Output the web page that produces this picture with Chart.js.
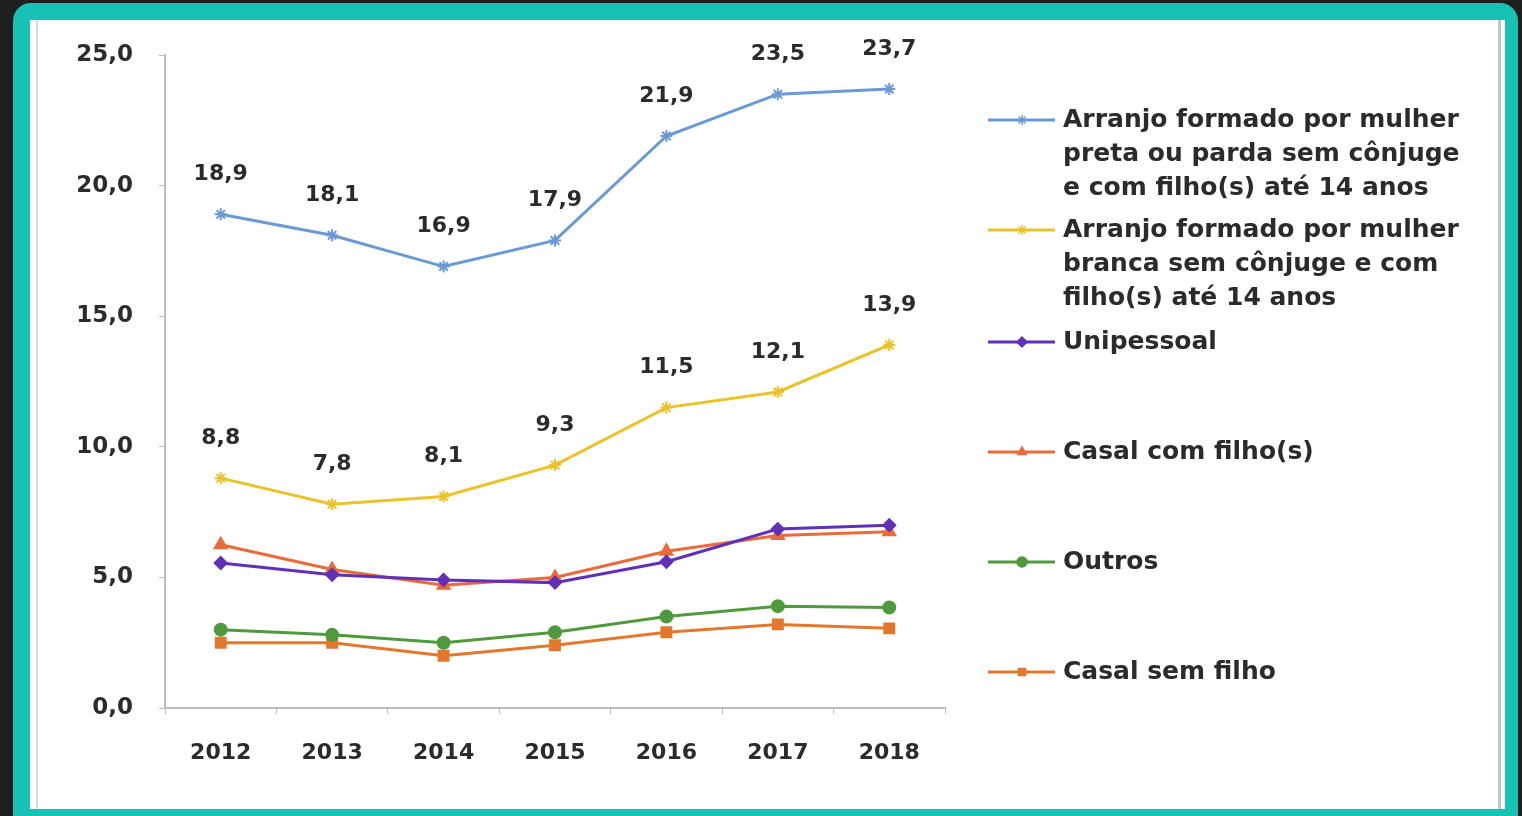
<!DOCTYPE html>
<html>
<head>
<meta charset="utf-8">
<script src="https://cdn.jsdelivr.net/npm/chart.js@4"></script>
<style>
  html, body { margin: 0; padding: 0; background: #1f1f1f; overflow: hidden; }
  #frame { position: absolute; left: 13px; top: 3px; width: 1505px; height: 840px; background: #17c1b4; border-radius: 18px; }
  #panel { position: absolute; left: 30px; top: 20px; width: 1475px; height: 789px; background: #fff; }
  #panel:before { content: ''; position: absolute; left: 6px; top: 0; bottom: 0; border-left: 2px solid #d8d8d8; }
  #panel:after { content: ''; position: absolute; right: 4px; top: 0; bottom: 0; border-left: 3px solid #c4c4c8; }
  #wrap { position: absolute; left: 30px; top: 20px; width: 1475px; height: 789px; }
</style>
</head>
<body>
<div id="frame"></div>
<div id="panel"></div>
<div id="wrap"><canvas id="myChart" width="1475" height="789"></canvas></div>
<script>
const anos = ['2012', '2013', '2014', '2015', '2016', '2017', '2018'];

const pretaParda = [18.9, 18.1, 16.9, 17.9, 21.9, 23.5, 23.7];
const branca = [8.8, 7.8, 8.1, 9.3, 11.5, 12.1, 13.9];
const unipessoal = [5.55, 5.1, 4.9, 4.8, 5.6, 6.85, 7.0];
const casalComFilho = [6.25, 5.3, 4.7, 5.0, 6.0, 6.6, 6.75];
const outros = [3.0, 2.8, 2.5, 2.9, 3.5, 3.9, 3.85];
const casalSemFilho = [2.5, 2.5, 2.0, 2.4, 2.9, 3.2, 3.05];

const legendas = [
    ['Arranjo formado por mulher', 'preta ou parda sem cônjuge', 'e com filho(s) até 14 anos'],
    ['Arranjo formado por mulher', 'branca sem cônjuge e com', 'filho(s) até 14 anos'],
    ['Unipessoal'],
    ['Casal com filho(s)'],
    ['Outros'],
    ['Casal sem filho']
];
const legendaY = [100, 210, 322, 432, 542, 652]; // canvas y of first line

const FONT = '"DejaVu Sans", sans-serif';
const fmt = v => v.toFixed(1).replace('.', ',');

function serie(label, data, color, style, size, labels){
    return {
        label: label,
        data: data,
        borderColor: color,
        backgroundColor: color,
        borderWidth: 3,
        pointStyle: style,
        pointRadius: size,
        pointBorderWidth: 2,
        showLabels: labels
    };
}

// rotulos de dados + legenda da direita
const extras = {
    id: 'extras',
    afterDatasetsDraw(chart){
        const c = chart.ctx;
        c.save();
        c.fillStyle = '#2b2b2b';
        c.font = 'bold 22px ' + FONT;
        c.textAlign = 'center';
        c.textBaseline = 'middle';
        chart.data.datasets.forEach((ds, i) => {
            if(!ds.showLabels) return;
            chart.getDatasetMeta(i).data.forEach((p, j) => {
                c.fillText(fmt(ds.data[j]), p.x, p.y - 40);
            });
        });
        c.textAlign = 'left';
        c.font = 'bold 25px ' + FONT;
        chart.data.datasets.forEach((ds, i) => {
            const y = legendaY[i];
            c.strokeStyle = ds.borderColor;
            c.lineWidth = 3;
            c.beginPath();
            c.moveTo(958, y);
            c.lineTo(1025, y);
            c.stroke();
            c.lineWidth = 1.5;
            c.fillStyle = ds.borderColor;
            Chart.helpers.drawPoint(c, {pointStyle: ds.pointStyle, radius: 5, rotation: 0, borderWidth: 1.5}, 992, y);
            c.fillStyle = '#2b2b2b';
            legendas[i].forEach((t, k) => c.fillText(t, 1033, y + k * 34));
        });
        c.restore();
    }
};

const ctx = document.getElementById('myChart').getContext('2d');
const myChart = new Chart(ctx, {
    type: 'line',
    data: {
        labels: anos,
        datasets: [
            serie(legendas[0].join(' '), pretaParda, '#6a9ad6', 'star', 6, true),
            serie(legendas[1].join(' '), branca, '#e9c329', 'star', 6, true),
            serie(legendas[2][0], unipessoal, '#6130b8', 'rectRot', 6, false),
            serie(legendas[3][0], casalComFilho, '#ea6a3a', 'triangle', 7, false),
            serie(legendas[4][0], outros, '#4f9a3c', 'circle', 6, false),
            serie(legendas[5][0], casalSemFilho, '#e3772c', 'rect', 7, false)
        ]
    },
    options: {
        responsive: false,
        animation: false,
        layout: { padding: { left: 0, top: 35, right: 560, bottom: 0 } },
        plugins: {
            legend: { display: false },
            tooltip: { enabled: false }
        },
        scales: {
            x: {
                offset: true,
                afterFit: s => { s.height = 101; },
                grid: { drawOnChartArea: false, offset: true, color: '#bdbdbd', tickLength: 6 },
                border: { color: '#bdbdbd', width: 2 },
                ticks: { color: '#2b2b2b', padding: 26, font: { family: FONT, size: 22, weight: 'bold' } }
            },
            y: {
                min: 0,
                max: 25,
                afterFit: s => { s.width = 135; s.paddingTop = 0; s.paddingBottom = 0; },
                grid: { drawOnChartArea: false, color: '#bdbdbd', tickLength: 6 },
                border: { color: '#bdbdbd', width: 2 },
                ticks: {
                    stepSize: 5,
                    color: '#2b2b2b',
                    padding: 26,
                    font: { family: FONT, size: 23, weight: 'bold' },
                    callback: v => fmt(v)
                }
            }
        }
    },
    plugins: [extras]
});
</script>
</body>
</html>
